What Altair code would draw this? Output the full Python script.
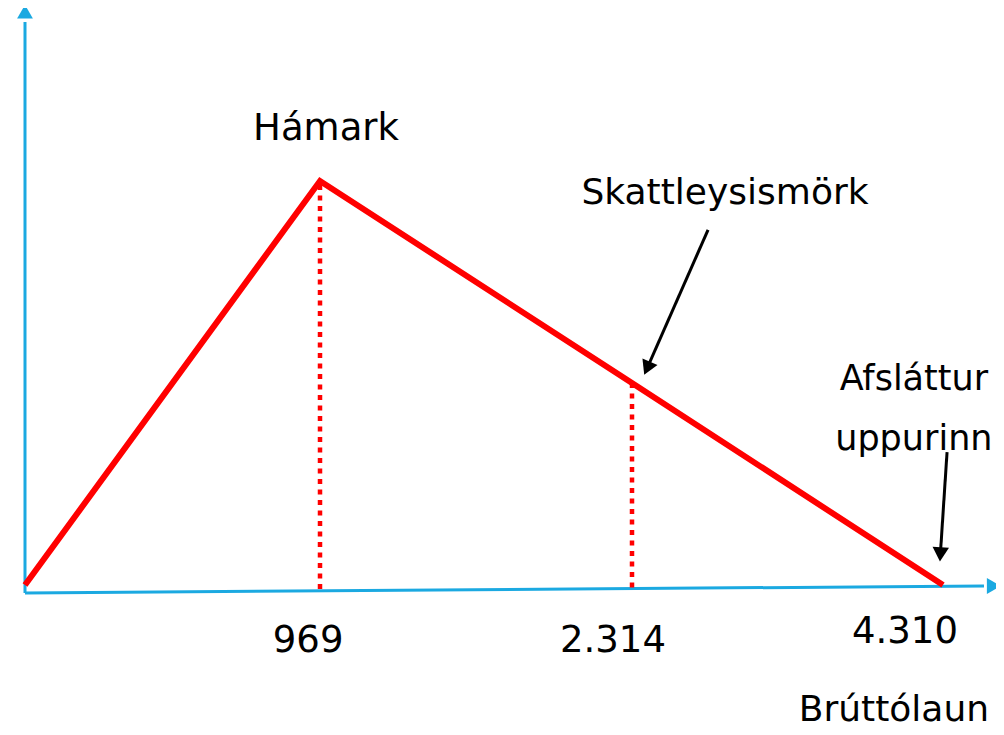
import altair as alt
import pandas as pd

# --- data (schematic: gross income thresholds on x, relative allowance on y) ---
INCOME = [0, 969, 2314, 4310]
LEVEL = [0.0, 1.0, 0.5, 0.0]

# drop lines from the curve to the x axis
DROP_X = [969, 2314]
DROP_TOP = [0.99, 0.5]
DROP_BOTTOM = [-0.016, -0.010]

# axis arrows (shaft start/end and head position, in data units)
AXIS_X1 = [0, 0]
AXIS_Y1 = [-0.0198, -0.0198]
AXIS_X2 = [0, 4573]
AXIS_Y2 = [1.3936, -0.0025]
AXIS_HEAD_X = [0, 4621]
AXIS_HEAD_Y = [1.4134, -0.0025]
AXIS_HEAD_ANGLE = [0, 90]

# annotation arrows
ARROW_X1 = [2802, 4336]
ARROW_Y1 = [0.879, 0.329]
ARROW_X2 = [2417, 4294]
ARROW_Y2 = [0.542, 0.0817]
ARROW_ANGLE = [203.8, 183.4]

# texts
TEXTS = ["Hámark", "Skattleysismörk", "969", "2.314", "4.310",
         "Afsláttur", "uppurinn", "Brúttólaun"]
TEXT_X = [995, 2911, 930, 2232, 4066, 4123, 4123, 3995]
TEXT_Y = [1.101, 0.943, -0.166, -0.166, -0.1436, 0.4827, 0.334, -0.337]
TEXT_SIZE = [37, 36, 37, 37, 37, 35, 35, 36]

RED = "#ff0000"
BLUE = "#1ba9e1"

xscale = alt.Scale(domain=INCOME, range=[17, 312, 624, 935], nice=False, zero=False)
yscale = alt.Scale(domain=[0, 1], range=[577, 173], nice=False, zero=False)

def X(f):
    return alt.X(f, type="quantitative", scale=xscale, axis=None)

def Y(f):
    return alt.Y(f, type="quantitative", scale=yscale, axis=None)

line_df = pd.DataFrame({"x": INCOME, "y": LEVEL})
drop_df = pd.DataFrame({"x": DROP_X, "y": DROP_TOP, "y2": DROP_BOTTOM})
axis_df = pd.DataFrame({"x": AXIS_X1, "y": AXIS_Y1, "x2": AXIS_X2, "y2": AXIS_Y2})
axis_head_df = pd.DataFrame({"x": AXIS_HEAD_X, "y": AXIS_HEAD_Y, "a": AXIS_HEAD_ANGLE})
arrow_df = pd.DataFrame({"x": ARROW_X1, "y": ARROW_Y1, "x2": ARROW_X2, "y2": ARROW_Y2})
arrow_head_df = pd.DataFrame({"x": ARROW_X2, "y": ARROW_Y2, "a": ARROW_ANGLE})
text_df = pd.DataFrame({"t": TEXTS, "x": TEXT_X, "y": TEXT_Y, "s": TEXT_SIZE})

axes = alt.Chart(axis_df).mark_rule(color=BLUE, strokeWidth=3).encode(
    x=X("x"), y=Y("y"), x2="x2", y2="y2")
axis_heads = alt.Chart(axis_head_df).mark_point(
    shape="triangle", filled=True, size=250, color=BLUE, opacity=1).encode(
    x=X("x"), y=Y("y"), angle=alt.Angle("a:Q", scale=None))

drops = alt.Chart(drop_df).mark_rule(color=RED, strokeWidth=4.5, strokeDash=[5, 5.5]).encode(
    x=X("x"), y=Y("y"), y2="y2")

curve = alt.Chart(line_df).mark_line(color=RED, strokeWidth=6, strokeJoin="miter").encode(
    x=X("x"), y=Y("y"), order="x:Q")

arrows = alt.Chart(arrow_df).mark_rule(color="black", strokeWidth=3).encode(
    x=X("x"), y=Y("y"), x2="x2", y2="y2")
arrow_heads = alt.Chart(arrow_head_df).mark_point(
    shape="triangle", filled=True, size=270, color="black", opacity=1).encode(
    x=X("x"), y=Y("y"), angle=alt.Angle("a:Q", scale=None))

texts = alt.Chart(text_df).mark_text(
    font="DejaVu Sans", color="black", align="center", baseline="alphabetic").encode(
    x=X("x"), y=Y("y"), text="t:N", size=alt.Size("s:Q", scale=None))

chart = alt.layer(axes, axis_heads, drops, curve, arrows, arrow_heads, texts).properties(
    width=988, height=719, padding=0,
    autosize=alt.AutoSizeParams(type="none"),
    background="white",
).configure_view(stroke=None)

chart.save("out.html", embed_options={"renderer": "svg", "actions": False})
